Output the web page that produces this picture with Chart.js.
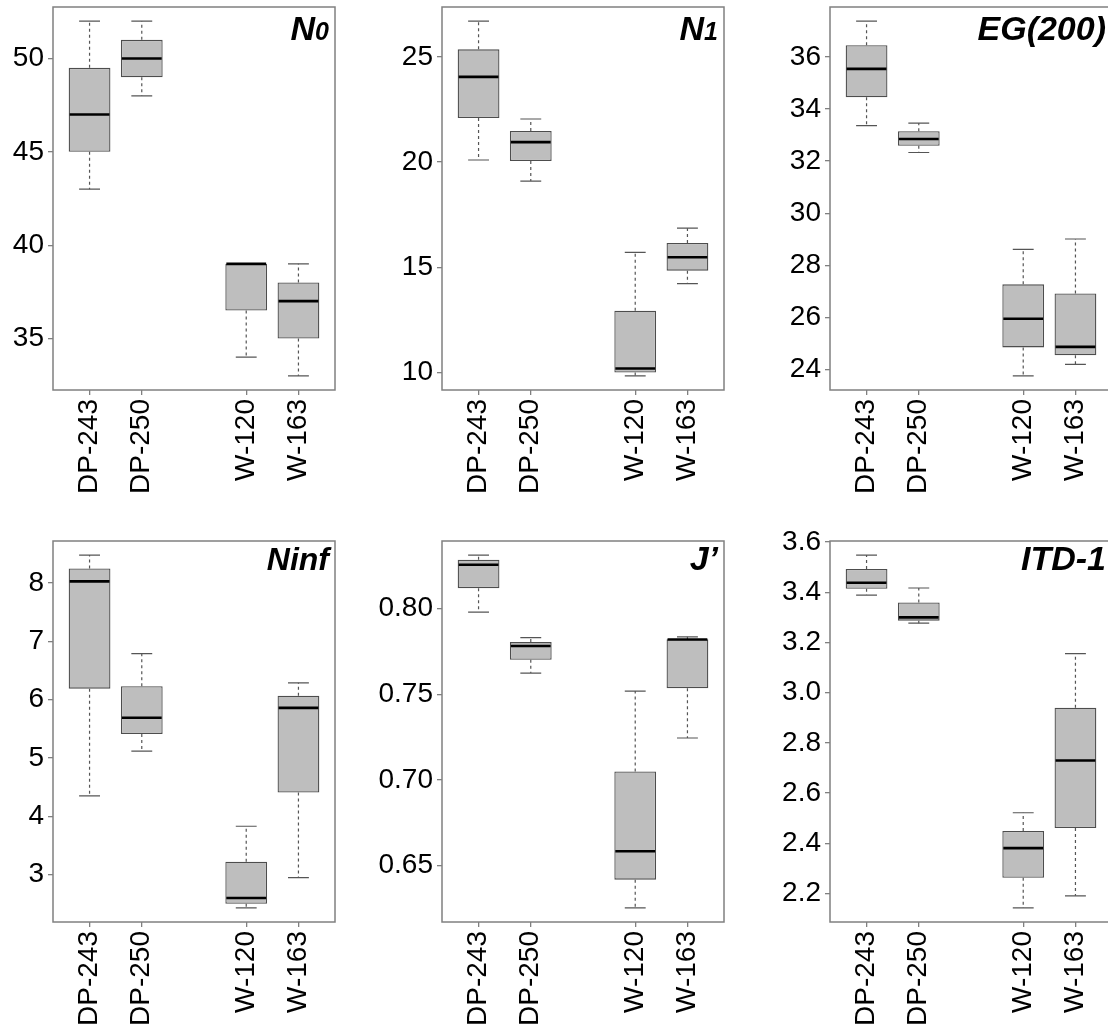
<!DOCTYPE html>
<html lang="en">
<head>
<meta charset="utf-8"/>
<title>Diversity indices by site</title>
<style>
  html, body { margin: 0; padding: 0; background: #fff; overflow: hidden; }
  body { width: 1108px; height: 1029px; position: relative; }
  canvas { position: absolute; }
</style>
</head>
<body>
<canvas id="c1" width="358" height="520" style="left:-19px;top:0px"></canvas>
<canvas id="c2" width="358" height="520" style="left:370px;top:0px"></canvas>
<canvas id="c3" width="358" height="520" style="left:758px;top:0px"></canvas>
<canvas id="c4" width="358" height="513" style="left:-19px;top:516px"></canvas>
<canvas id="c5" width="358" height="513" style="left:370px;top:516px"></canvas>
<canvas id="c6" width="358" height="513" style="left:758px;top:516px"></canvas>
<script src="https://cdn.jsdelivr.net/npm/chart.js@4"></script>
<script>
const groups = ["DP-243", "DP-250", "W-120", "W-163"];
const groupPos = [1, 2, 4, 5];

// N0
const n0Min = [43, 48, 34, 33];
const n0Q1 = [45, 49, 36.5, 35];
const n0Med = [47, 50, 39, 37];
const n0Q3 = [49.5, 51, 39, 38];
const n0Max = [52, 52, 39, 39];
const n0Ticks = [35, 40, 45, 50];

// N1
const n1Min = [20.1, 19.1, 9.84, 14.22];
const n1Q1 = [22.1, 20.05, 10.0, 14.84];
const n1Med = [24.05, 20.95, 10.19, 15.48];
const n1Q3 = [25.36, 21.48, 12.93, 16.16];
const n1Max = [26.7, 22.05, 15.71, 16.86];
const n1Ticks = [10, 15, 20, 25];

// EG(200)
const egMin = [33.36, 32.33, 23.76, 24.2];
const egQ1 = [34.45, 32.59, 24.85, 24.55];
const egMed = [35.54, 32.85, 25.95, 24.87];
const egQ3 = [36.45, 33.15, 27.27, 26.92];
const egMax = [37.37, 33.46, 28.61, 29.01];
const egTicks = [24, 26, 28, 30, 32, 34, 36];

// Ninf
const ninfMin = [4.35, 5.12, 2.43, 2.95];
const ninfQ1 = [6.19, 5.41, 2.50, 4.41];
const ninfMed = [8.03, 5.69, 2.60, 5.86];
const ninfQ3 = [8.25, 6.23, 3.22, 6.07];
const ninfMax = [8.48, 6.79, 3.83, 6.29];
const ninfTicks = [3, 4, 5, 6, 7, 8];

// J'
const jMin = [0.798, 0.7624, 0.6253, 0.7245];
const jQ1 = [0.812, 0.7702, 0.6418, 0.7536];
const jMed = [0.8257, 0.7782, 0.6584, 0.782];
const jQ3 = [0.8286, 0.7805, 0.7049, 0.7822];
const jMax = [0.8313, 0.7831, 0.7519, 0.7836];
const jTicks = [0.65, 0.70, 0.75, 0.80];

// ITD-1
const itdMin = [3.389, 3.277, 2.143, 2.191];
const itdQ1 = [3.414, 3.287, 2.263, 2.461];
const itdMed = [3.438, 3.30, 2.381, 2.73];
const itdQ3 = [3.4925, 3.359, 2.449, 2.94];
const itdMax = [3.548, 3.417, 2.522, 3.156];
const itdTicks = [2.2, 2.4, 2.6, 2.8, 3.0, 3.2, 3.4, 3.6];

const FONT = '"Liberation Sans", Arial, sans-serif';

const panels = [
  { id: "c1", row: 0, title: [["N", 34], ["0", 25]], min: n0Min, q1: n0Q1, med: n0Med, q3: n0Q3, max: n0Max, ticks: n0Ticks, dec: 0 },
  { id: "c2", row: 0, title: [["N", 34], ["1", 25]], min: n1Min, q1: n1Q1, med: n1Med, q3: n1Q3, max: n1Max, ticks: n1Ticks, dec: 0 },
  { id: "c3", row: 0, title: [["EG(200)", 34]], min: egMin, q1: egQ1, med: egMed, q3: egQ3, max: egMax, ticks: egTicks, dec: 0 },
  { id: "c4", row: 1, title: [["N", 32], ["inf", 32]], min: ninfMin, q1: ninfQ1, med: ninfMed, q3: ninfQ3, max: ninfMax, ticks: ninfTicks, dec: 0 },
  { id: "c5", row: 1, title: [["J\u2019", 34]], min: jMin, q1: jQ1, med: jMed, q3: jQ3, max: jMax, ticks: jTicks, dec: 2 },
  { id: "c6", row: 1, title: [["ITD-1", 34]], min: itdMin, q1: itdQ1, med: itdMed, q3: itdQ3, max: itdMax, ticks: itdTicks, dec: 1 }
];

function boxParts(p) {
  return {
    id: "boxParts",
    beforeDatasetsDraw(chart) {
      const ctx = chart.ctx, xs = chart.scales.x, ys = chart.scales.y;
      const cap = xs.getPixelForValue(1.2) - xs.getPixelForValue(1);
      ctx.save();
      ctx.strokeStyle = "#555";
      ctx.lineWidth = 1.2;
      ctx.setLineDash([3, 3]);
      groupPos.forEach((g, i) => {
        const x = xs.getPixelForValue(g);
        ctx.beginPath();
        ctx.moveTo(x, ys.getPixelForValue(p.q3[i]));
        ctx.lineTo(x, ys.getPixelForValue(p.max[i]));
        ctx.moveTo(x, ys.getPixelForValue(p.q1[i]));
        ctx.lineTo(x, ys.getPixelForValue(p.min[i]));
        ctx.stroke();
      });
      ctx.setLineDash([]);
      groupPos.forEach((g, i) => {
        const x = xs.getPixelForValue(g);
        ctx.beginPath();
        [p.max[i], p.min[i]].forEach(v => {
          const y = ys.getPixelForValue(v);
          ctx.moveTo(x - cap, y);
          ctx.lineTo(x + cap, y);
        });
        ctx.stroke();
      });
      ctx.restore();
    },
    afterDatasetsDraw(chart) {
      const ctx = chart.ctx, xs = chart.scales.x, ys = chart.scales.y;
      const half = xs.getPixelForValue(1.4) - xs.getPixelForValue(1);
      ctx.save();
      ctx.strokeStyle = "#000";
      ctx.lineWidth = 2.6;
      groupPos.forEach((g, i) => {
        const x = xs.getPixelForValue(g), y = ys.getPixelForValue(p.med[i]);
        ctx.beginPath();
        ctx.moveTo(x - half + 1, y);
        ctx.lineTo(x + half - 1, y);
        ctx.stroke();
      });
      ctx.restore();
    },
    afterDraw(chart) {
      const ctx = chart.ctx, a = chart.chartArea;
      ctx.save();
      ctx.strokeStyle = "#808080";
      ctx.lineWidth = 1.5;
      ctx.strokeRect(a.left, a.top, a.right - a.left, a.bottom - a.top);
      // panel label, top right
      ctx.fillStyle = "#000";
      ctx.textBaseline = "alphabetic";
      let total = 0;
      p.title.forEach(([t, s]) => {
        ctx.font = "italic bold " + s + "px " + FONT;
        total += ctx.measureText(t).width;
      });
      let x = a.right - 6 - total;
      const y = a.top + (p.row === 0 ? 33 : 29);
      p.title.forEach(([t, s]) => {
        ctx.font = "italic bold " + s + "px " + FONT;
        ctx.fillText(t, x, y);
        x += ctx.measureText(t).width;
      });
      ctx.restore();
    }
  };
}

panels.forEach(p => {
  const lo = Math.min(...p.min), hi = Math.max(...p.max);
  const ext = (hi - lo) * 0.04;
  const tickFont = { family: FONT, size: 28 };
  new Chart(document.getElementById(p.id), {
    type: "bar",
    data: {
      datasets: [{
        data: groupPos.map((g, i) => ({ x: g, y: [p.q1[i], p.q3[i]] })),
        backgroundColor: "#bebebe",
        borderColor: "#4d4d4d",
        borderWidth: 1.3,
        borderSkipped: false,
        categoryPercentage: 0.8,
        barPercentage: 1.0
      }]
    },
    options: {
      responsive: false,
      animation: false,
      devicePixelRatio: 1,
      layout: { padding: { top: p.row === 0 ? 7 : 25, right: 4, left: 0, bottom: 0 } },
      plugins: { legend: { display: false }, tooltip: { enabled: false } },
      scales: {
        x: {
          type: "linear",
          min: 0.3,
          max: 5.7,
          offset: false,
          grid: { offset: false, drawOnChartArea: false, drawTicks: true, tickLength: 5, color: "#808080", lineWidth: 1.3 },
          border: { display: false },
          afterBuildTicks: s => { s.ticks = groupPos.map(v => ({ value: v })); },
          afterFit: s => { s.height = p.row === 0 ? 130 : 107; s.paddingLeft = 0; s.paddingRight = 0; },
          ticks: {
            autoSkip: false,
            maxRotation: 90,
            minRotation: 90,
            padding: 4,
            color: "#000",
            font: tickFont,
            callback: (v, i) => groups[i]
          }
        },
        y: {
          min: lo - ext,
          max: hi + ext,
          grid: { drawOnChartArea: false, drawTicks: true, tickLength: 5, color: "#808080", lineWidth: 1.3 },
          border: { display: false },
          afterBuildTicks: s => { s.ticks = p.ticks.map(v => ({ value: v })); },
          afterFit: s => { s.width = 72; s.paddingTop = 0; s.paddingBottom = 0; },
          ticks: {
            padding: 4,
            color: "#000",
            font: tickFont,
            callback: v => Number(v).toFixed(p.dec)
          }
        }
      }
    },
    plugins: [boxParts(p)]
  });
});
</script>
</body>
</html>
